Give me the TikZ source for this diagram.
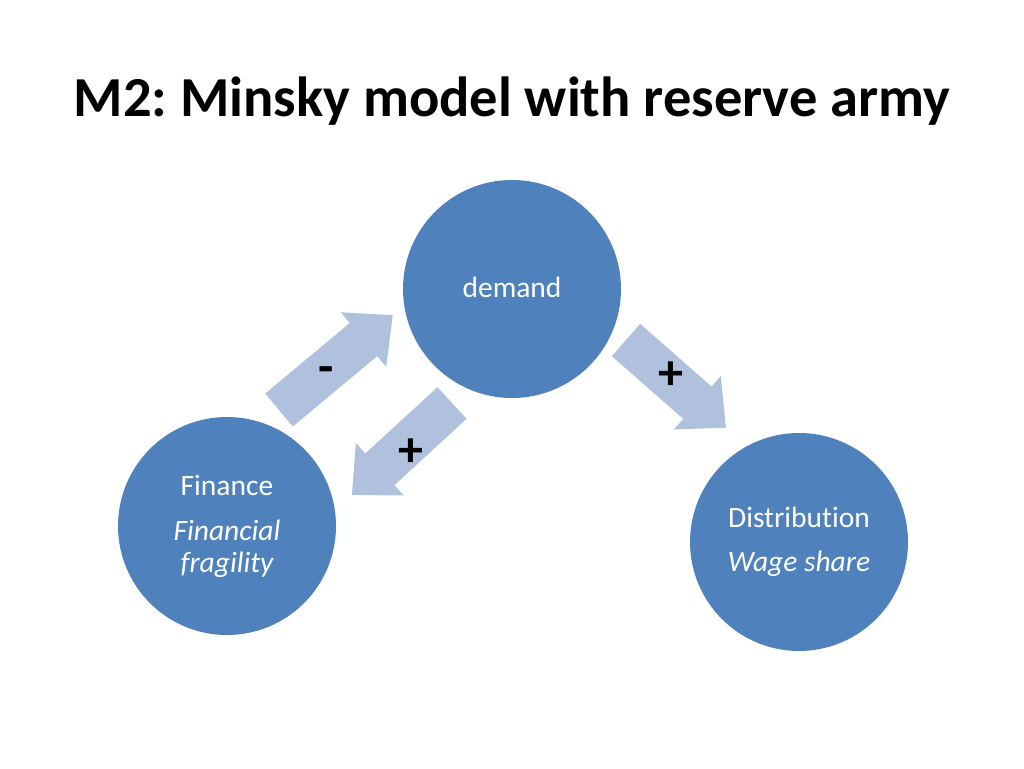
\documentclass[tikz,border=0pt]{standalone}
\usepackage{fontspec}
\setmainfont{Carlito}[Ligatures={NoCommon}]
\frenchspacing
\begin{document}
\begin{tikzpicture}[x=1pt,y=1pt,
  bubble/.style={circle, fill={rgb,255:red,79;green,129;blue,189}, minimum size=218pt, inner sep=0pt},
  btext/.style={text=white, font=\fontsize{29.5}{34}\selectfont, anchor=base},
  sign/.style={text=black, font=\bfseries\fontsize{50}{54}\selectfont},
  blockarrow/.style={fill={rgb,255:red,176;green,193;blue,222}}
]
\useasboundingbox (0,0) rectangle (1024,768);
% title
\node[anchor=base, font=\bfseries\fontsize{56.5}{64}\selectfont] (title) at (512,651) {M2: Minsky model with reserve army};
% circles
\node[bubble] (demand) at (512,479) {};
\node[bubble] (finance) at (227,242) {};
\node[bubble] (distribution) at (799,226) {};
% texts
\node[btext] (tdemand) at (512,470) {demand};
\node[btext] (tfin) at (227,272) {Finance};
\node[btext] (tfin2) at (227,227) {\itshape Financial};
\node[btext] (tfin3) at (227,195) {\itshape fragility};
\node[btext] (tdis) at (799,240) {Distribution};
\node[btext] (tdis2) at (799,196) {\itshape Wage share};
% block arrows: shaft half-width 21.5, head half-width 35.5, head length 38
\begin{scope}[shift={(279,358)}, rotate=39.8]
  \path[blockarrow] (0,-21.5) -- (110,-21.5) -- (110,-35.5) -- (148,0) -- (110,35.5) -- (110,21.5) -- (0,21.5) -- cycle;
\end{scope}
\begin{scope}[shift={(452,365)}, rotate=222.6]
  \path[blockarrow] (0,-21.5) -- (98,-21.5) -- (98,-35.5) -- (136,0) -- (98,35.5) -- (98,21.5) -- (0,21.5) -- cycle;
\end{scope}
\begin{scope}[shift={(626,428)}, rotate=-41.3]
  \path[blockarrow] (0,-21.5) -- (95,-21.5) -- (95,-35.5) -- (133,0) -- (95,35.5) -- (95,21.5) -- (0,21.5) -- cycle;
\end{scope}
% signs
\node[sign] (s1) at (326,393) {-};
\node[sign] (s2) at (411,315) {+};
\node[sign] (s3) at (671,392) {+};
\end{tikzpicture}
\end{document}
